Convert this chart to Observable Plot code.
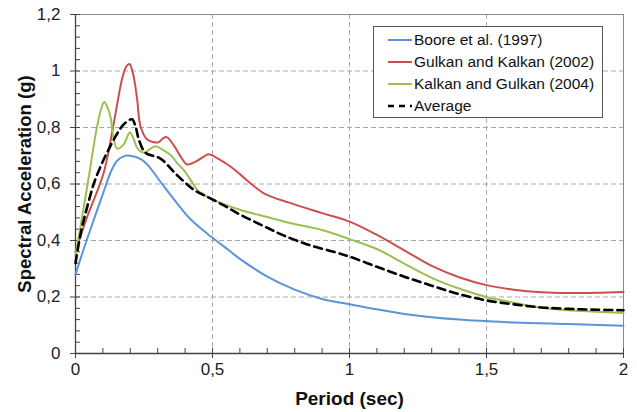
<!DOCTYPE html>
<html>
<head>
<meta charset="utf-8">
<script src="https://cdn.jsdelivr.net/npm/d3@7"></script>
<script src="https://cdn.jsdelivr.net/npm/@observablehq/plot@0.6"></script>
<style>
  body { margin: 0; background: #fff; }
  #wrap { position: relative; width: 637px; height: 412px; font-family: "Liberation Sans", Arial, sans-serif; }
  #wrap svg g[aria-label="x-axis label"] text { font-weight: bold; font-size: 19px; fill: #111; }
  #wrap svg g[aria-label="y-axis label"] text { font-weight: bold; font-size: 18.5px; fill: #111; }
  #legend { position: absolute; left: 373px; top: 26px; width: 230px; height: 92px; border: 1.3px solid #555; background: #fff; box-sizing: border-box; padding-top: 2px; }
  .item { display: flex; align-items: center; height: 22px; font-size: 15.5px; color: #111; }
  .item svg { margin-left: 14px; margin-right: 2px; }
</style>
</head>
<body>
<div id="wrap"></div>
<script>
// ---- data ----
const booreT = [0, 0.03, 0.06, 0.1, 0.13, 0.15, 0.175, 0.2, 0.24, 0.27, 0.31, 0.36, 0.42, 0.48, 0.54, 0.6, 0.7, 0.8, 0.9, 1.0, 1.2, 1.4, 1.6, 1.8, 2.0];
const booreA = [0.28, 0.37, 0.455, 0.565, 0.645, 0.68, 0.698, 0.70, 0.687, 0.66, 0.608, 0.545, 0.475, 0.425, 0.38, 0.335, 0.272, 0.226, 0.193, 0.174, 0.14, 0.12, 0.11, 0.104, 0.098];

const gulkanT = [0, 0.043, 0.103, 0.14, 0.17, 0.185, 0.197, 0.21, 0.225, 0.237, 0.261, 0.303, 0.32, 0.333, 0.36, 0.385, 0.407, 0.44, 0.47, 0.486, 0.52, 0.564, 0.6, 0.686, 0.783, 0.9, 1.0, 1.1, 1.2, 1.3, 1.4, 1.5, 1.6, 1.7, 1.8, 1.9, 2.0];
const gulkanA = [0.36, 0.485, 0.64, 0.817, 0.972, 1.015, 1.025, 0.99, 0.90, 0.805, 0.758, 0.748, 0.762, 0.766, 0.735, 0.695, 0.669, 0.68, 0.698, 0.705, 0.69, 0.663, 0.635, 0.568, 0.533, 0.497, 0.467, 0.42, 0.365, 0.31, 0.27, 0.242, 0.226, 0.217, 0.214, 0.215, 0.218];

const kalkanT = [0, 0.043, 0.079, 0.095, 0.105, 0.115, 0.127, 0.14, 0.152, 0.176, 0.198, 0.212, 0.225, 0.249, 0.291, 0.32, 0.35, 0.37, 0.394, 0.431, 0.449, 0.504, 0.6, 0.7, 0.783, 0.9, 1.0, 1.1, 1.2, 1.3, 1.4, 1.5, 1.6, 1.7, 1.8, 1.9, 2.0];
const kalkanA = [0.345, 0.592, 0.805, 0.87, 0.89, 0.875, 0.841, 0.758, 0.725, 0.74, 0.782, 0.76, 0.728, 0.711, 0.734, 0.72, 0.70, 0.675, 0.651, 0.598, 0.574, 0.544, 0.509, 0.483, 0.462, 0.437, 0.405, 0.37, 0.318, 0.268, 0.23, 0.2, 0.18, 0.162, 0.153, 0.148, 0.143];

const avgT = [0, 0.02, 0.043, 0.07, 0.103, 0.12, 0.14, 0.176, 0.206, 0.22, 0.231, 0.255, 0.31, 0.37, 0.431, 0.48, 0.54, 0.6, 0.7, 0.759, 0.85, 0.95, 1.0, 1.1, 1.2, 1.3, 1.4, 1.5, 1.6, 1.7, 1.8, 1.9, 2.0];
const avgA = [0.32, 0.43, 0.52, 0.61, 0.687, 0.72, 0.758, 0.811, 0.829, 0.80, 0.758, 0.711, 0.69, 0.632, 0.58, 0.555, 0.525, 0.492, 0.445, 0.418, 0.385, 0.358, 0.343, 0.307, 0.272, 0.24, 0.21, 0.188, 0.174, 0.163, 0.158, 0.155, 0.153];

const seriesNames = ["Boore et al. (1997)", "Gulkan and Kalkan (2002)", "Kalkan and Gulkan (2004)", "Average"];
const seriesColors = ["#5b93dc", "#c9504e", "#9bc04f", "#000000"];
const xTicks = [0, 0.5, 1, 1.5, 2];
const yTicks = [0, 0.2, 0.4, 0.6, 0.8, 1.0, 1.2];
const xMinor = d3.range(0, 21).map(i => i / 10);
const yMinor = d3.range(0, 31).map(i => +(i * 0.04).toFixed(2));

const toRows = (T, A) => T.map((t, i) => ({t, a: A[i]}));
const rows = [toRows(booreT, booreA), toRows(gulkanT, gulkanA), toRows(kalkanT, kalkanA), toRows(avgT, avgA)];

const fmt = d => String(+d.toFixed(2)).replace(".", ",");

const W = 637, H = 412, mL = 75, mR = 14, mT = 14, mB = 59;
const pw = W - mL - mR, ph = H - mT - mB;

const chart = Plot.plot({
  width: W, height: H,
  marginLeft: mL, marginRight: mR, marginTop: mT, marginBottom: mB,
  style: {fontFamily: "'Liberation Sans', Arial, sans-serif", fontSize: "17px", color: "#222", background: "#fff"},
  x: {domain: [0, 2]},
  y: {domain: [0, 1.2]},
  marks: [
    Plot.gridY(yTicks.slice(1), {stroke: "#a8a8a8", strokeOpacity: 1, strokeDasharray: "5,3"}),
    Plot.gridX(xTicks.slice(1), {stroke: "#a8a8a8", strokeOpacity: 1, strokeDasharray: "5,3"}),
    Plot.frame({stroke: "#8a8a8a"}),
    Plot.tickY(yMinor, {y: d => d, insetRight: pw - 5, stroke: "#444"}),
    Plot.tickX(xMinor, {x: d => d, insetTop: ph - 5, stroke: "#444"}),
    Plot.ruleX([0], {stroke: "#444", strokeWidth: 1.3}),
    Plot.ruleY([0], {stroke: "#444", strokeWidth: 1.3}),
    Plot.axisY({ticks: yTicks, tickFormat: fmt, tickSize: 5, tickPadding: 10, stroke: "#444",
      label: "Spectral Acceleration (g)", labelAnchor: "center", labelOffset: 58, labelArrow: "none"}),
    Plot.axisX({ticks: xTicks, tickFormat: fmt, tickSize: 5, tickPadding: 4, stroke: "#444",
      label: "Period (sec)", labelAnchor: "center", labelOffset: 51, labelArrow: "none"}),
    Plot.line(rows[0], {x: "t", y: "a", stroke: seriesColors[0], strokeWidth: 2, curve: "catmull-rom"}),
    Plot.line(rows[1], {x: "t", y: "a", stroke: seriesColors[1], strokeWidth: 2, curve: "catmull-rom"}),
    Plot.line(rows[2], {x: "t", y: "a", stroke: seriesColors[2], strokeWidth: 2, curve: "catmull-rom"}),
    Plot.line(rows[3], {x: "t", y: "a", stroke: seriesColors[3], strokeWidth: 2.6, strokeDasharray: "8,5", curve: "catmull-rom"})
  ]
});

const wrap = document.getElementById("wrap");
wrap.appendChild(chart);

const legend = document.createElement("div");
legend.id = "legend";
seriesNames.forEach((name, i) => {
  const item = document.createElement("div");
  item.className = "item";
  const dash = i === 3 ? 'stroke-dasharray="6,5"' : "";
  const sw = i === 3 ? 2.6 : 2;
  item.innerHTML = `<svg width="24" height="6"><line x1="0" y1="3" x2="24" y2="3" stroke="${seriesColors[i]}" stroke-width="${sw}" ${dash}/></svg><span>${name}</span>`;
  legend.appendChild(item);
});
wrap.appendChild(legend);
</script>
</body>
</html>
